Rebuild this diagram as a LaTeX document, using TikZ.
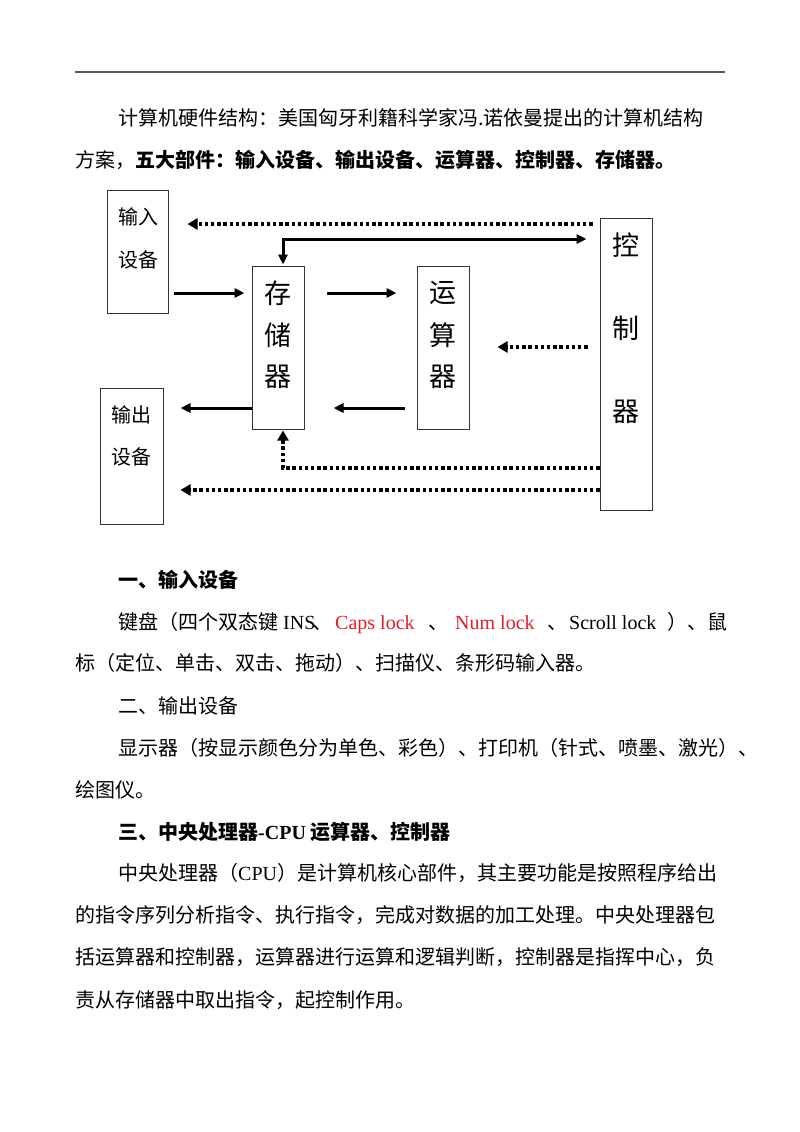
\documentclass[tikz,border=0pt]{standalone}
\usepackage{fontspec}
\setmainfont{Liberation Serif}
\newfontfamily\cjk{Noto Sans CJK SC}
\usetikzlibrary{arrows.meta}
\definecolor{capred}{RGB}{222,32,38}
\begin{document}
\begin{tikzpicture}[x=1pt,y=-1pt,
  txt/.style={anchor=base west,inner sep=0,font=\cjk\fontsize{20}{24}\selectfont},
  box/.style={draw=black!80,line width=1pt,inner sep=0},
  boxtxt/.style={inner sep=0,font=\cjk\fontsize{20}{24}\selectfont},
  bigtxt/.style={inner sep=0,font=\cjk\fontsize{27}{30}\selectfont},
  sarr/.style={line width=3pt,-{Triangle[length=10pt,width=9pt]}},
  darr/.style={line width=3.6pt,dash pattern=on 3.4pt off 2.8pt,-{Triangle[length=10pt,width=11pt]}}
]
\useasboundingbox (0,0) rectangle (800,1132);
\draw[line width=1.5pt,black!65] (75,72) -- (725,72);

% header text
\node[txt] (t1) at (118,125) {计算机硬件结构：美国匈牙利籍科学家冯.诺依曼提出的计算机结构};
\node[txt] (t2) at (75,167) {方案，\bfseries 五大部件：输入设备、输出设备、运算器、控制器、存储器。};

% boxes
\node[box,minimum width=61,minimum height=123] (in) at (137.5,251.5) {};
\node[box,minimum width=63,minimum height=136] (out) at (131.5,456) {};
\node[box,minimum width=52,minimum height=163] (mem) at (278,347.5) {};
\node[box,minimum width=52,minimum height=163] (alu) at (443,347.5) {};
\node[box,minimum width=52,minimum height=292] (ctl) at (626,364) {};

\node[boxtxt] (in1) at (138,217) {输入};
\node[boxtxt] (in2) at (138,260) {设备};
\node[boxtxt] (out1) at (131.5,415) {输出};
\node[boxtxt] (out2) at (131.5,457) {设备};
\node[bigtxt] (m1) at (278,293) {存};
\node[bigtxt] (m2) at (278,335) {储};
\node[bigtxt] (m3) at (278,377) {器};
\node[bigtxt] (a1) at (443,293) {运};
\node[bigtxt] (a2) at (443,335) {算};
\node[bigtxt] (a3) at (443,377) {器};
\node[bigtxt] (c1) at (626,245) {控};
\node[bigtxt] (c2) at (626,328) {制};
\node[bigtxt] (c3) at (626,412) {器};

% helper coordinates
\coordinate (y224) at (0,224);
\coordinate (y239) at (0,239);
\coordinate (y293) at (0,293);
\coordinate (y347) at (0,347);
\coordinate (y408) at (0,408);
\coordinate (y468) at (0,468);
\coordinate (y490) at (0,490);
\coordinate (mx) at (283,0);

% connectors
\draw[darr,shorten <=7pt,shorten >=19pt] (ctl.west |- y224) -- (in.east |- y224);
\draw[line width=3pt,{Triangle[length=10pt,width=9pt]}-{Triangle[length=10pt,width=9pt]},shorten >=13pt,shorten <=1pt]
  (mx |- mem.north) |- (ctl.west |- y239);
\draw[sarr,shorten <=5pt,shorten >=7pt] (in.east |- y293) -- (mem.west |- y293);
\draw[sarr,shorten <=22pt,shorten >=20pt] (mem.east |- y293) -- (alu.west |- y293);
\draw[darr,shorten <=12pt,shorten >=28pt] (ctl.west |- y347) -- (alu.east |- y347);
\draw[sarr,shorten >=17pt] (mem.west |- y408) -- (out.east |- y408);
\draw[sarr,shorten <=12pt,shorten >=29pt] (alu.west |- y408) -- (mem.east |- y408);
\draw[darr,shorten >=1pt] (ctl.west |- y468) -| (mx |- mem.south);
\draw[darr,shorten >=17pt] (ctl.west |- y490) -- (out.east |- y490);

% body text
\node[txt,font=\cjk\bfseries\fontsize{20}{24}\selectfont] (t3) at (118,587) {一、输入设备};
\node[txt] (t4a) at (118,629) {键盘（四个双态键};
\node[txt] (t4b) at (283,629) {\rmfamily INS};
\node[txt] (t4c) at (312,629) {、};
\node[txt,text=capred] (t4d) at (335,629) {\rmfamily Caps lock};
\node[txt] (t4e) at (428,629) {、};
\node[txt,text=capred] (t4f) at (455,629) {\rmfamily Num lock};
\node[txt] (t4g) at (547,629) {、};
\node[txt] (t4h) at (569,629) {\rmfamily Scroll lock};
\node[txt] (t4i) at (667,629) {）、鼠};
\node[txt] (t5) at (75,670) {标（定位、单击、双击、拖动）、扫描仪、条形码输入器。};
\node[txt] (t6) at (118,713) {二、输出设备};
\node[txt] (t7) at (118,755) {显示器（按显示颜色分为单色、彩色）、打印机（针式、喷墨、激光）、};
\node[txt] (t8) at (75,797) {绘图仪。};
\node[txt,font=\cjk\bfseries\fontsize{20}{24}\selectfont] (t9) at (118,839) {三、中央处理器{\rmfamily\bfseries -CPU }运算器、控制器};
\node[txt] (t10) at (118,880) {中央处理器（{\rmfamily CPU}）是计算机核心部件，其主要功能是按照程序给出};
\node[txt] (t11) at (75,922) {的指令序列分析指令、执行指令，完成对数据的加工处理。中央处理器包};
\node[txt] (t12) at (75,964) {括运算器和控制器，运算器进行运算和逻辑判断，控制器是指挥中心，负};
\node[txt] (t13) at (75,1007) {责从存储器中取出指令，起控制作用。};
\end{tikzpicture}
\end{document}
